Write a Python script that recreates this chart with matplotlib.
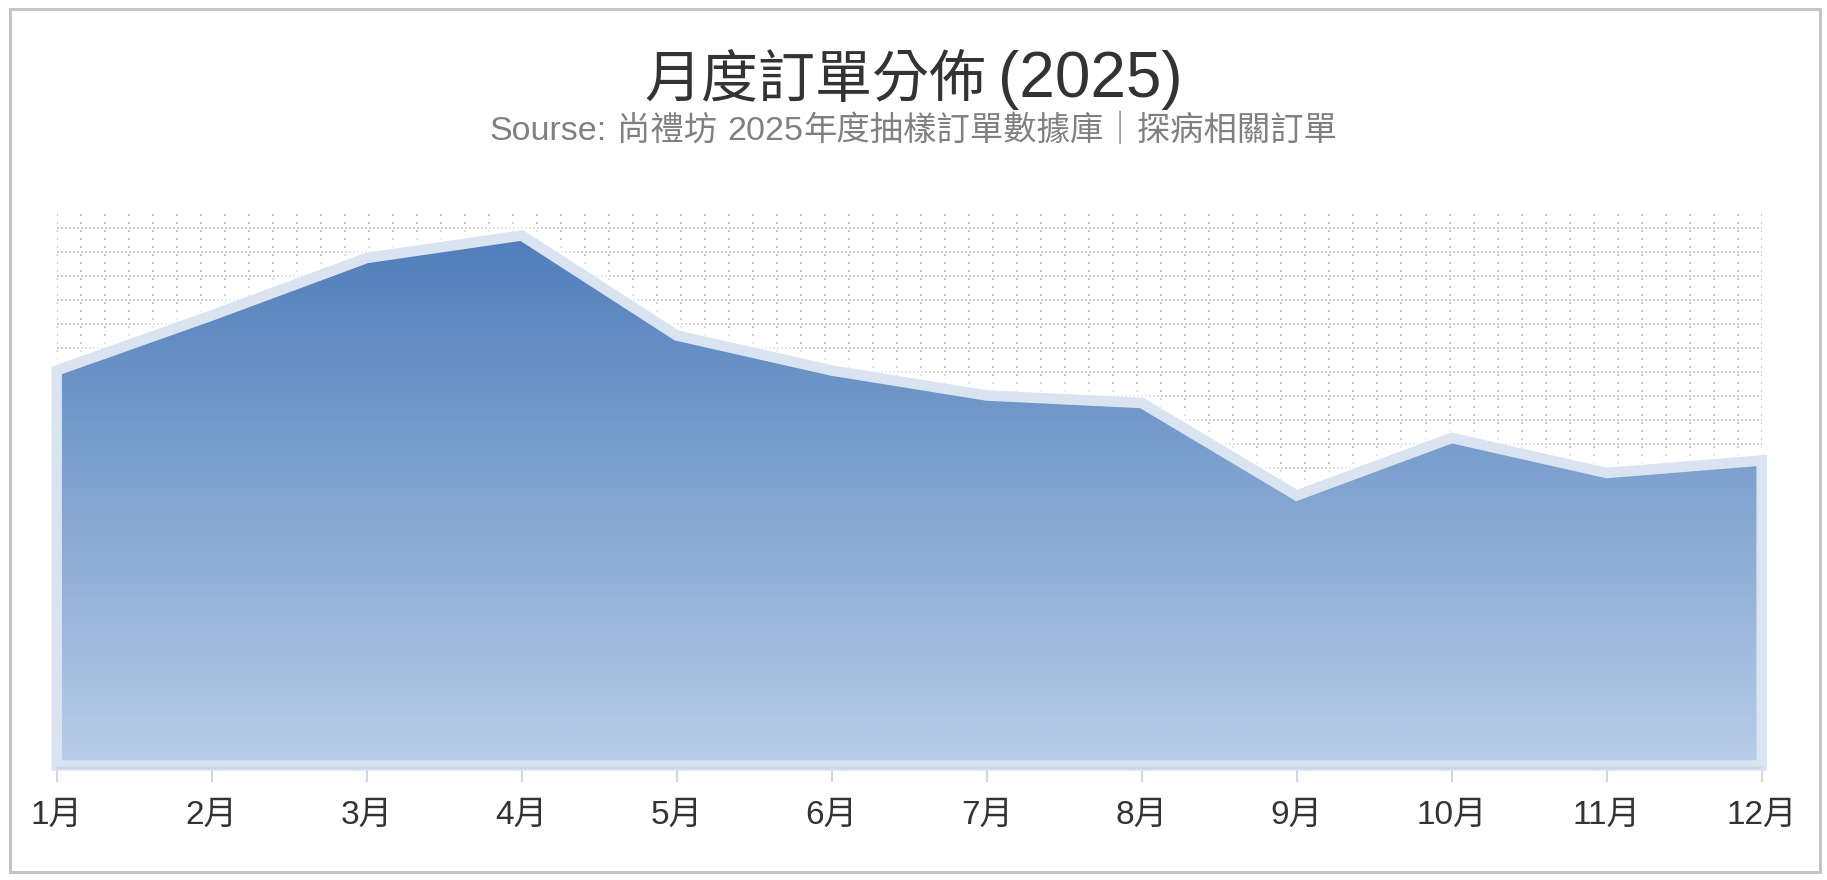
import numpy as np
import matplotlib
matplotlib.use('Agg')
import matplotlib.pyplot as plt
from matplotlib.patches import Polygon, Rectangle
from matplotlib.colors import LinearSegmentedColormap

# ---- data ----
months = ['1月', '2月', '3月', '4月', '5月', '6月', '7月', '8月', '9月', '10月', '11月', '12月']
orders = [158, 180, 203, 212, 172, 158, 148, 145, 108, 131, 117, 122]
title_runs = [('月度訂單分佈', 'cjk'), (' ', 'lat'), ('(2025)', 'lat')]
subtitle_runs = [('Sourse:', 'lat'), (' ', 'lat'), ('尚禮坊', 'cjk'), (' ', 'lat'),
                 ('2025', 'lat'), ('年度抽樣訂單數據庫｜探病相關訂單', 'cjk')]

CJK = ['Noto Sans CJK TC', 'DejaVu Sans']
LAT = ['Liberation Sans', 'Noto Sans CJK TC']
plt.rcParams['font.family'] = LAT

W, H = 1827, 880
PX = 72 / 100  # points per pixel
fig = plt.figure(figsize=(W / 100, H / 100), dpi=100)
fig.patch.set_facecolor('white')

left, right, top, bottom = 56.7, 1761.7, 213, 768
ax = fig.add_axes([left / W, 1 - bottom / H, (right - left) / W, (bottom - top) / H])
ax.set_facecolor('none')
x = np.arange(len(months))
ymin, ymax = -1, 221
ax.set_xlim(0, len(months) - 1)
ax.set_ylim(ymin, ymax)

# ---- dotted background grid (every 24 px) ----
axh = bottom - top
grid_c = '#c8c8c8'
k = 0
while 15 + 24 * k < axh:
    yy = 1 - (15 + 24 * k) / axh
    ax.plot([0, 1], [yy, yy], transform=ax.transAxes, color=grid_c,
            lw=2 * PX, linestyle=(0, (1, 1)), zorder=1)
    k += 1
nv = 71
for i in range(nv + 1):
    xx = i / nv
    ax.plot([xx, xx], [0, 1], transform=ax.transAxes, color=grid_c,
            lw=2 * PX, linestyle=(0, (1, 3)), zorder=1)

# ---- white glow around the series line ----
for w, a in [(34, 0.25), (26, 0.35), (18, 0.5)]:
    ax.plot(x, orders, color='white', lw=w * PX, alpha=a, zorder=2,
            solid_joinstyle='round', clip_on=False)

# ---- gradient area ----
verts = [(0, 0)] + list(zip(x, orders)) + [(x[-1], 0)]
poly = Polygon(verts, closed=True, facecolor='none', edgecolor='none')
ax.add_patch(poly)
cmap = LinearSegmentedColormap.from_list('g', ['#b8cde8', '#4a7ab8'])
grad = np.linspace(0, 1, 256).reshape(-1, 1)
im = ax.imshow(grad, extent=[0, x[-1], 0, ymax], origin='lower', aspect='auto',
               cmap=cmap, zorder=3, interpolation='bilinear')
im.set_clip_path(poly)

# ---- light stroke around the area ----
edge = Polygon(verts, closed=True, facecolor='none', edgecolor='#dae3f0',
               lw=10.5 * PX, joinstyle='miter', zorder=4, clip_on=False)
ax.add_patch(edge)

# ---- axes styling ----
for s in ['left', 'right', 'top']:
    ax.spines[s].set_visible(False)
ax.spines['bottom'].set_color('#ccd6eb')
ax.spines['bottom'].set_linewidth(2.5 * PX)
ax.spines['bottom'].set_zorder(5)
ax.set_yticks([])
ax.set_xticks(x)
ax.set_xticklabels(months, fontsize=24, color='#333333', family=LAT)
ax.tick_params(axis='x', length=14 * PX, width=2 * PX, color='#ccd6eb',
               pad=18 * PX)


# ---- titles drawn as runs (Latin and CJK parts at their own sizes) ----
def draw_runs(runs, baseline_px, sizes, color, space_px):
    renderer = fig.canvas.get_renderer()
    items = []
    total = 0.0
    for s, kind in runs:
        if s == ' ':
            items.append((None, space_px))
            total += space_px
            continue
        t = fig.text(0, 1 - baseline_px / H, s, ha='left', va='baseline',
                     fontsize=sizes[kind], family=CJK if kind == 'cjk' else LAT,
                     color=color)
        w = t.get_window_extent(renderer).width
        items.append((t, w))
        total += w
    xpos = (W - total) / 2
    for t, w in items:
        if t is not None:
            t.set_x(xpos / W)
        xpos += w


draw_runs(title_runs, 97, {'cjk': 41, 'lat': 46}, '#333333', 12)
draw_runs(subtitle_runs, 140, {'cjk': 24, 'lat': 24.5}, '#808080', 10)

# ---- outer border ----
fig.patches.append(Rectangle((9.5 / W, 1 - 872 / H), (1820 - 9.5) / W, (872 - 9.5) / H,
                             transform=fig.transFigure, fill=False,
                             edgecolor='#c4c4c4', lw=3 * PX, zorder=0))

fig.savefig('out.png', dpi=100, facecolor='white')
